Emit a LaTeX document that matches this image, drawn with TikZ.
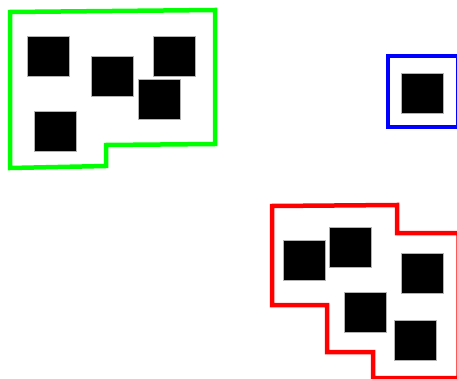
\documentclass[tikz,border=0pt]{standalone}
\usepackage{xcolor}
\usetikzlibrary{positioning}

\begin{document}
\begin{tikzpicture}[x=1pt, y=-1pt,
    hull/.style={line width=4.5pt},
    blob/.style={fill=black, draw=gray!60, line width=0.4pt}]
  \useasboundingbox (0,0) rectangle (457,379);
  \clip (0,0) rectangle (457,379);
  % groups
  \draw[hull, green] (10,12) -- (215,10) -- (215,144) -- (106,145)
    -- (106,166) -- (10,168) -- cycle;
  \draw[hull, blue] (388,56) -- (458.5,56) -- (458.5,127) -- (388,127) -- cycle;
  \draw[hull, red] (272,206) -- (397,205) -- (397,233) -- (458.5,233)
    -- (458.5,378) -- (373,378) -- (373,352) -- (327,352) -- (327,305)
    -- (272,305) -- cycle;
  % members
  \foreach \x/\y in {27/36, 91/56, 153/36, 138/79, 34/111,
                     401/73,
                     283/240, 329/227, 401/253, 344/292, 394/320}
    \fill[blob] (\x,\y) rectangle ++(42,40);
\end{tikzpicture}
\end{document}
